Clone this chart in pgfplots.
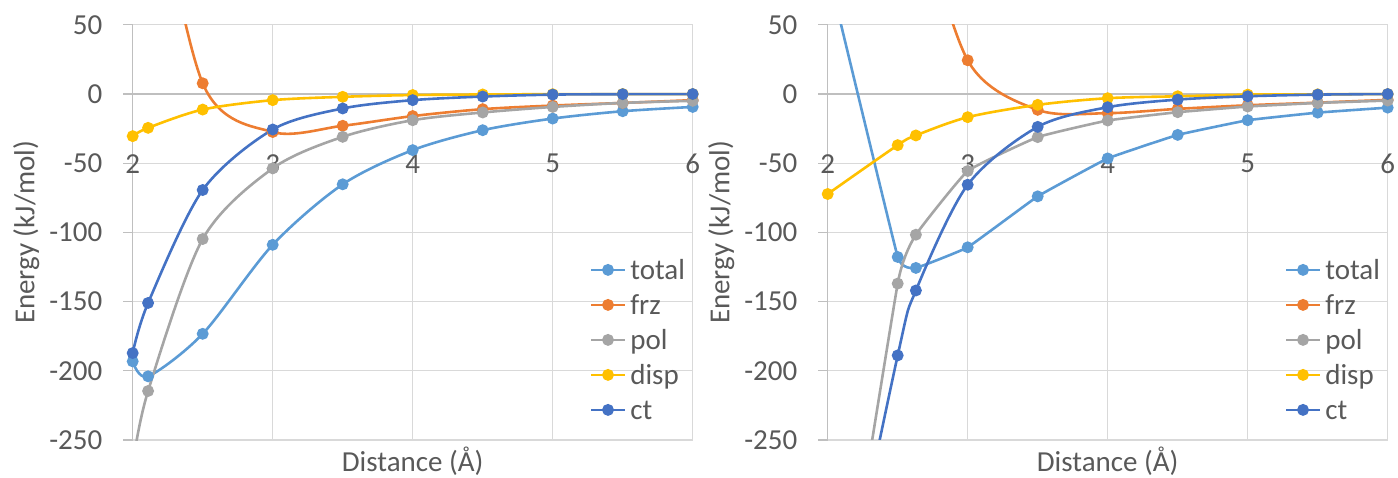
\documentclass[border=0pt]{standalone}
\usepackage{fontspec}
\setmainfont{Carlito}
\usepackage{pgfplots}
\pgfplotsset{compat=1.18}
\definecolor{cTotal}{HTML}{5B9BD5}
\definecolor{cFrz}{HTML}{ED7D31}
\definecolor{cPol}{HTML}{A5A5A5}
\definecolor{cDisp}{HTML}{FFC000}
\definecolor{cCt}{HTML}{4472C4}
\definecolor{cGrid}{HTML}{D9D9D9}
\definecolor{cAxis}{HTML}{BFBFBF}
\definecolor{cText}{HTML}{595959}
\pgfplotsset{
  myaxis/.style={
    scale only axis, width=280pt, height=207.65pt,
    xmin=2, xmax=6, ymin=-250, ymax=50,
    xtick={2,3,4,5,6}, ytick={-250,-200,-150,-100,-50,0,50},
    axis x line=middle, axis y line=left,
    hide obscured x ticks=false,
    axis line style={-, draw=cAxis, line width=0.6pt},
    grid=major, major grid style={draw=cGrid, line width=0.6pt},
    tick align=outside, major tick length=4.7pt,
    xtick style={draw=none}, ytick style={draw=cAxis, line width=0.6pt},
    ticklabel style={font=\fontsize{14.5}{17}\selectfont, text=cText},
    /pgf/number format/assume math mode=true,
    xticklabel shift=22pt,
    yticklabel shift=7pt,
    xlabel={Distance (Å)}, ylabel={Energy (kJ/mol)},
    every axis x label/.style={at={(axis description cs:0.5,-0.0763)}, anchor=base, font=\fontsize{14.5}{17}\selectfont, text=cText},
    every axis y label/.style={at={(axis description cs:-0.1757,0.5)}, anchor=base, rotate=90, font=\fontsize{14.5}{17}\selectfont, text=cText},
    legend cell align=left,
    legend style={draw=none, fill=none, at={(axis description cs:0.8154,0.4527)}, anchor=north west,
      inner sep=0pt, row sep=0pt, column sep=2pt, font=\fontsize{14.5}{17}\selectfont, text=cText,
      nodes={inner sep=0pt, text height=13.4pt, text depth=4.1pt}},
    legend image code/.code={\draw[mark repeat=2,mark phase=2,##1] plot coordinates {(0pt,0pt) (8.5pt,0pt) (17pt,0pt)};},
    every axis plot/.append style={line width=1.3pt, smooth, mark=*, mark size=2.3pt, mark options={solid}},
  }
}
\begin{document}
\begin{tikzpicture}
\path[use as bounding box] (-66.35pt,-18.5pt) rectangle (632.65pt,220pt);
\begin{axis}[myaxis, at={(0pt,0pt)}, anchor=south west]
\addplot[color=cTotal] coordinates {(2,-193.2) (2.11,-204) (2.5,-173.3) (3,-109) (3.5,-65.3) (4,-40.6) (4.5,-26.2) (5,-17.8) (5.5,-12.5) (6,-9.4)};
\addlegendentry{total}
\addplot[color=cFrz] coordinates {(2,290) (2.11,186) (2.5,7.7) (3,-27.5) (3.5,-23) (4,-16) (4.5,-11) (5,-8.4) (5.5,-6.5) (6,-4.5)};
\addlegendentry{frz}
\addplot[color=cPol] coordinates {(2,-268) (2.11,-214.6) (2.5,-104.8) (3,-53.8) (3.5,-31) (4,-19) (4.5,-13.4) (5,-9.4) (5.5,-6.5) (6,-5)};
\addlegendentry{pol}
\addplot[color=cDisp] coordinates {(2,-30.5) (2.11,-24.5) (2.5,-11.3) (3,-4.5) (3.5,-2.1) (4,-0.8) (4.5,-0.4) (5,-0.2) (5.5,-0.1) (6,-0.1)};
\addlegendentry{disp}
\addplot[color=cCt] coordinates {(2,-187.2) (2.11,-151) (2.5,-69.4) (3,-25.7) (3.5,-10.5) (4,-4.5) (4.5,-1.9) (5,-0.5) (5.5,-0.2) (6,-0.1)};
\addlegendentry{ct}
\end{axis}
\begin{axis}[myaxis, at={(347.5pt,0pt)}, anchor=south west]
\addplot[color=cTotal, tension=0.15] coordinates {(2,90) (2.5,-117.8) (2.63,-125.7) (3,-110.8) (3.5,-74) (4,-46.6) (4.5,-29.6) (5,-19) (5.5,-13.5) (6,-9.9)};
\addlegendentry{total}
\addplot[color=cFrz] coordinates {(2,1180) (2.5,245) (2.63,148) (3,24.3) (3.5,-11.5) (4,-13.9) (4.5,-10.8) (5,-8.2) (5.5,-6.3) (6,-4.3)};
\addlegendentry{frz}
\addplot[color=cPol, tension=0.2] coordinates {(2,-450) (2.5,-137) (2.63,-101.7) (3,-55.7) (3.5,-31.2) (4,-19.2) (4.5,-13.2) (5,-9.1) (5.5,-6.5) (6,-4.8)};
\addlegendentry{pol}
\addplot[color=cDisp] coordinates {(2,-72.3) (2.5,-37) (2.63,-30) (3,-16.8) (3.5,-7.9) (4,-3.1) (4.5,-1.7) (5,-0.5) (5.5,-0.3) (6,-0.1)};
\addlegendentry{disp}
\addplot[color=cCt] coordinates {(2,-430) (2.5,-188.9) (2.63,-142) (3,-65.6) (3.5,-23.8) (4,-9.6) (4.5,-4.1) (5,-1.7) (5.5,-0.5) (6,-0.1)};
\addlegendentry{ct}
\end{axis}
\end{tikzpicture}
\end{document}
